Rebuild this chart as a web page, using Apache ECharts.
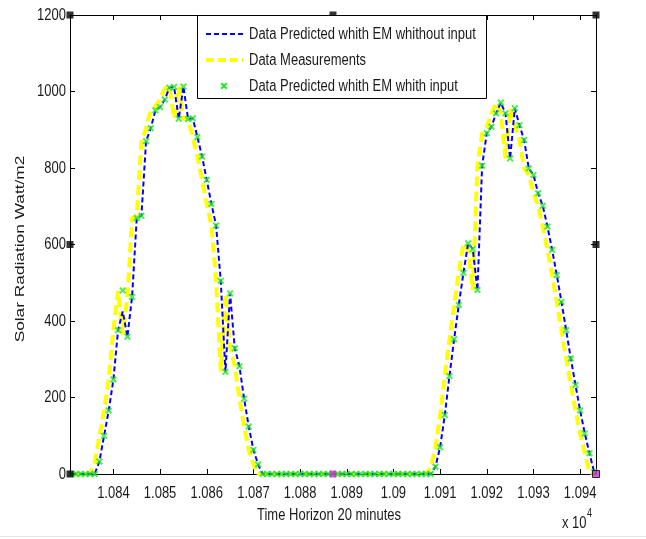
<!DOCTYPE html>
<html>
<head>
<meta charset="utf-8">
<script src="https://cdn.jsdelivr.net/npm/echarts@6/dist/echarts.min.js"></script>
<style>
html,body{margin:0;padding:0;background:#fff;}
#chart{width:646px;height:539px;}
</style>
</head>
<body>
<div id="chart"></div>
<script>
// ---- data ----
const timeStart = 10831; // first sample (x axis units, 20-minute steps)
const xTickValues = [10840,10850,10860,10870,10880,10890,10900,10910,10920,10930,10940];
const xTickLabels = ['1.084','1.085','1.086','1.087','1.088','1.089','1.09','1.091','1.092','1.093','1.094'];
const yTickValues = [0,200,400,600,800,1000,1200];
const yTickLabels = ['0','200','400','600','800','1000','1200'];
const seriesNames = ['Data Predicted whith EM whithout input','Data Measurements','Data Predicted whith EM whith input'];

// Data Predicted whith EM whithout input (blue dashed)
const predNoInput = [
  0,0,0,0,0,0,33,100,166,247,376,425,359,463,669,675,870,904,951,959,979,1010,1012,929,1013,928,930,881,830,769,706,650,505,267,472,329,282,197,124,63,25,
  0,0,0,0,0,0,0,0,0,0,0,0,0,0,0,0,0,0,0,0,0,0,0,0,0,0,0,0,0,0,0,0,0,0,0,0,0,
  19,70,154,256,352,442,526,603,588,481,806,891,908,943,971,943,825,956,912,873,799,782,734,701,647,586,520,450,376,302,233,166,106,54,5
];
// Data Measurements (yellow dashed)
const measured = [
  0,0,0,0,0,30,98,165,248,378,478,365,462,668,675,868,905,950,960,980,1008,1012,930,1012,928,930,880,830,768,705,650,505,268,470,330,282,198,124,63,25,0,
  0,0,0,0,0,0,0,0,0,0,0,0,0,0,0,0,0,0,0,0,0,0,0,0,0,0,0,0,0,0,0,0,0,0,0,0,
  18,70,154,256,352,442,526,603,588,481,806,891,908,943,971,943,825,956,912,873,799,782,734,701,647,586,520,450,376,302,233,166,106,54,5,0
];
// Data Predicted whith EM whith input (green x markers)
const predInput = [
  0,0,0,0,0,0,33,100,166,247,376,480,359,463,669,675,870,904,951,959,979,1010,1012,929,1013,928,930,881,830,769,706,650,505,267,472,329,282,197,124,63,25,
  0,0,0,0,0,0,0,0,0,0,0,0,0,0,0,0,0,0,0,0,0,0,0,0,0,0,0,0,0,0,0,0,0,0,0,0,0,
  19,70,154,256,352,442,526,603,588,481,806,891,908,943,971,943,825,956,912,873,799,782,734,701,647,586,520,450,376,302,233,166,106,54,5
];
const xMin = 10830.7, xMax = 10943.4;
// figure edit handles (x, y, colour)
const handleX = [xMin, (xMin+xMax)/2, xMax, xMin, xMax, xMin, (xMin+xMax)/2, xMax];
const handleY = [1200, 1200, 1200, 600, 600, 0, 0, 0];
const handleC = ['#000','#000','#000','#000','#000','#000','#cc33cc','#cc33cc'];

// ---- style ----
const FONT = "'Liberation Sans', Arial, sans-serif";
const FS = 13;
const SY = 1.33;      // vertical stretch of the original figure's text
const TXT = '#1a1a1a';

const toPairs = arr => arr.map((v, i) => [timeStart + i, v]);
const XPTS = [[0,2],[2,0],[5,3],[8,0],[10,2],[7,5],[10,8],[8,10],[5,7],[2,10],[0,8],[3,5]];
const XPATH = 'path://M' + XPTS.map(p => p.join(',')).join(' L') + ' Z';

const chart = echarts.init(document.getElementById('chart'), null, {renderer: 'canvas'});

const axisCommon = {
  axisLine: {show: true, onZero: false, lineStyle: {color: '#000', width: 1}},
  splitLine: {show: false},
  axisLabel: {show: false}
};
const tick = {show: true, inside: true, length: 5, lineStyle: {color: '#000'}};

const textEl = (x, y, text, extra) => Object.assign({
  type: 'text', x: x, y: y, scaleY: SY, z: 11,
  style: {text: text, fontFamily: FONT, fontSize: FS, fill: TXT, align: 'left', verticalAlign: 'middle'}
}, extra || {});

const option = {
  animation: false,
  backgroundColor: '#fff',
  grid: {left: 70, top: 15, width: 526, height: 459, containLabel: false},
  xAxis: [
    Object.assign({}, axisCommon, {type: 'value', position: 'bottom', min: xMin, max: xMax,
      axisTick: Object.assign({customValues: xTickValues}, tick)}),
    Object.assign({}, axisCommon, {type: 'value', position: 'top', min: xMin, max: xMax,
      axisTick: Object.assign({customValues: xTickValues}, tick)})
  ],
  yAxis: [
    Object.assign({}, axisCommon, {type: 'value', position: 'left', min: 0, max: 1200, interval: 200, axisTick: tick}),
    Object.assign({}, axisCommon, {type: 'value', position: 'right', min: 0, max: 1200, interval: 200, axisTick: tick})
  ],
  series: [
    {
      name: seriesNames[1], type: 'line', data: toPairs(measured), showSymbol: false, symbol: 'none',
      lineStyle: {color: '#ffff00', width: 4, type: [10, 5]}, z: 2
    },
    {
      name: seriesNames[0], type: 'line', data: toPairs(predNoInput), showSymbol: false, symbol: 'none',
      lineStyle: {color: '#0000ff', width: 2, type: [5, 3]}, z: 3
    },
    {
      name: seriesNames[2], type: 'scatter', data: toPairs(predInput), symbol: XPATH, symbolSize: 7,
      itemStyle: {color: '#22e622'}, z: 4, clip: false
    },
    {
      name: 'handles', type: 'scatter', symbol: 'rect', symbolSize: 7, clip: false, silent: true, z: 5,
      data: handleX.map((x, i) => ({value: [x, handleY[i]], itemStyle: {color: handleC[i], borderColor: '#000', borderWidth: i === 7 ? 1 : 0}}))
    }
  ]
};
chart.setOption(option);

// tick labels placed through the chart's own scales (drawn as stretched text like the original)
const g = [];
xTickValues.forEach((v, i) => {
  const p = chart.convertToPixel({xAxisIndex: 0, yAxisIndex: 0}, [v, 0]);
  g.push(textEl(p[0], p[1] + 19, xTickLabels[i], {style: {text: xTickLabels[i], fontFamily: FONT, fontSize: FS, fill: TXT, align: 'center', verticalAlign: 'middle'}}));
});
yTickValues.forEach((v, i) => {
  const p = chart.convertToPixel({xAxisIndex: 0, yAxisIndex: 0}, [xMin, v]);
  g.push(textEl(p[0] - 4, p[1], yTickLabels[i], {style: {text: yTickLabels[i], fontFamily: FONT, fontSize: FS, fill: TXT, align: 'right', verticalAlign: 'middle'}}));
});
// axis titles
g.push(textEl(329, 515, 'Time Horizon 20 minutes', {style: {text: 'Time Horizon 20 minutes', fontFamily: FONT, fontSize: FS, fill: TXT, align: 'center', verticalAlign: 'middle'}}));
g.push({type: 'text', x: 20, y: 249, rotation: Math.PI / 2, scaleX: SY, z: 11,
  style: {text: 'Solar Radiation Watt/m2', fontFamily: FONT, fontSize: FS, fill: TXT, align: 'center', verticalAlign: 'middle'}});
g.push(textEl(562, 523, 'x 10'));
g.push(textEl(587, 514, '4', {style: {text: '4', fontFamily: FONT, fontSize: 9, fill: TXT, align: 'left', verticalAlign: 'middle'}}));
// legend
g.push({type: 'rect', shape: {x: 197.5, y: 15.5, width: 289, height: 83}, style: {fill: '#fff', stroke: '#000', lineWidth: 1}, z: 10});
g.push({type: 'line', shape: {x1: 206, y1: 34, x2: 243, y2: 34}, style: {stroke: '#0000ff', lineWidth: 2, lineDash: [5, 3]}, z: 11});
g.push({type: 'line', shape: {x1: 206, y1: 60, x2: 243, y2: 60}, style: {stroke: '#ffff00', lineWidth: 4, lineDash: [8, 4]}, z: 11});
g.push({type: 'polygon', shape: {points: XPTS.map(p => [220.5 + p[0] * 0.7, 82.5 + p[1] * 0.7])}, style: {fill: '#22e622'}, z: 11});
seriesNames.forEach((n, i) => g.push(textEl(249, 34 + 26 * i, n)));
// faint bottom border of the figure
g.push({type: 'line', shape: {x1: 0, y1: 536.5, x2: 646, y2: 536.5}, style: {stroke: '#e4e4e4', lineWidth: 1}});

chart.setOption({graphic: g});
</script>
</body>
</html>
